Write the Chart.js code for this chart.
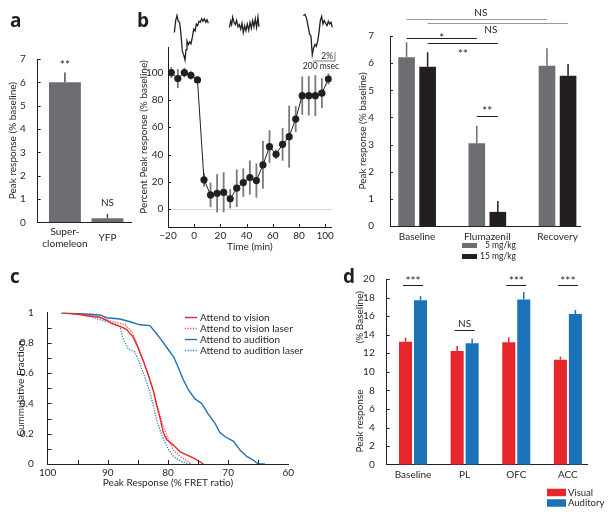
<!DOCTYPE html>
<html>
<head>
<meta charset="utf-8">
<script src="https://cdn.jsdelivr.net/npm/chart.js@4.4.1/dist/chart.umd.min.js"></script>
<style>
  body { margin: 0; background: #fff; }
  #fig { position: relative; width: 612px; height: 519px; overflow: hidden; }
  #fig canvas { position: absolute; }
</style>
</head>
<body>
<div id="fig">
  <canvas id="chartA" width="140" height="262" style="left:0;top:0"></canvas>
  <canvas id="chartB" width="230" height="262" style="left:110px;top:0"></canvas>
  <canvas id="traces" width="175" height="72" style="left:165px;top:0"></canvas>
  <canvas id="chartB2" width="272" height="265" style="left:340px;top:0"></canvas>
  <canvas id="chartC" width="330" height="259" style="left:0;top:260px"></canvas>
  <canvas id="chartD" width="282" height="259" style="left:330px;top:260px"></canvas>
</div>
<script>
// panel a
const aLabels = [["Super-", "clomeleon"], "YFP"];
const aValues = [6.0, 0.17];
const aErrors = [0.42, 0.19];

// panel b, time course
const bTimes = [-17.5, -12.5, -7.5, -2.5, 2.5, 7.5, 12.5, 17.5, 22.5, 27.5, 32.5, 37.5, 42.5,
  47.5, 52.5, 57.5, 62.5, 67.5, 72.5, 77.5, 82.5, 87.5, 92.5, 97.5, 102.5];
const bResponse = [100, 95.6, 100, 98, 94.6, 21.5, 10.5, 11.7, 12.4, 7.6, 15.4, 19.5, 23.2,
  21, 32.4, 45.8, 40.2, 47.5, 53.1, 66, 83.1, 83.1, 83.1, 84.9, 95.3];
const bErrors = [4, 7, 3.5, 3, 2, 5, 9, 14, 14.6, 7, 13.7, 10.5, 12.5,
  12.5, 17.5, 12, 3.5, 12, 22.7, 9.5, 14, 14.5, 15, 11, 4];
const bTimeTicks = [-20, 0, 20, 40, 60, 80, 100];
const bPercentTicks = [0, 20, 40, 60, 80, 100];

// example traces above panel b (ms, % change)
const trace1Ms = [85, 97, 109, 121, 133, 145, 158, 170, 182, 191, 200, 212, 224, 236, 248, 261,
  273, 285, 297, 309, 321, 333, 345, 358, 370, 382, 394];
const trace1Val = [-2.71, 0, 1.16, -0.16, -0.39, -3.1, -6.98, -7.75, -8.91, -6.59, -4.65, -5.43,
  -4.81, -5.27, -3.88, -1.94, -2.33, -0.78, -1.16, -0.16, -0.39, 0.39, -0.16, 0.39, -0.39, 0.16, -0.62];
const trace2Ms = [585, 597, 606, 615, 627, 639, 651, 664, 676, 688, 700, 712, 724, 736, 748, 761,
  773, 785, 797, 809, 821, 833, 845, 854];
const trace2Val = [-1.55, -0.16, -0.93, 0.78, -0.39, -0.93, 0, -1.4, -0.93, -1.94, -0.62, -2.71,
  -1.16, -2.33, -0.78, -2.17, -0.39, -1.71, 0, -1.4, 0.39, -1.55, 0.78, -1.4];
const trace3Ms = [1257, 1273, 1288, 1303, 1315, 1327, 1339, 1351, 1364, 1376, 1388, 1400, 1412,
  1424, 1436, 1448, 1460, 1473, 1485, 1497, 1509, 1521];
const trace3Val = [1.16, 1.4, 0.39, -1.55, -3.1, -3.49, -7.75, -6.2, -5.43, -5.81, -4.65, -2.71,
  0, 0.93, -0.78, 0, -0.62, -1.16, -0.16, -0.78, -0.39, -1.55];
const scaleBarMs = [1345, 1545, 1545];
const scaleBarVal = [-9.14, -9.14, -7.14];

// panel b, flumazenil
const b2Groups = ["Baseline", "Flumazenil", "Recovery"];
const dose5 = [6.22, 3.05, 5.9];
const dose5Err = [0.55, 0.64, 0.65];
const dose15 = [5.87, 0.52, 5.54];
const dose15Err = [0.53, 0.4, 0.43];

// panel c, cumulative distributions
const visionX = [97.7, 95, 93.5, 91.3, 90.2, 89.4, 88, 86.9, 85.8, 85, 84.1, 83.3, 82.4, 81.9,
  81.3, 80.8, 80.2, 79.1, 78, 76.9, 75.8, 74.7, 74.1];
const visionY = [1, 0.99, 0.98, 0.97, 0.95, 0.93, 0.91, 0.89, 0.84, 0.77, 0.68, 0.59, 0.48, 0.39,
  0.3, 0.21, 0.16, 0.125, 0.08, 0.06, 0.04, 0.015, 0];
const visionLaserX = [97.7, 94, 91.9, 89.1, 87.1, 86, 85.2, 84.4, 83.5, 82.7, 82.2, 81.6, 80.8,
  79.9, 79.1, 78, 76.6, 76.1];
const visionLaserY = [1, 0.99, 0.975, 0.94, 0.92, 0.875, 0.8, 0.71, 0.62, 0.52, 0.445, 0.36, 0.25,
  0.16, 0.09, 0.05, 0.015, 0];
const auditionX = [97.7, 93, 91.3, 90.2, 88, 86.3, 84.7, 83, 82.4, 81.3, 80.2, 79.1, 78.3, 77.5,
  76.6, 75.5, 74.4, 73.3, 72.2, 71.4, 70.5, 70, 69.1, 68, 66.9, 65.8, 65, 63.9];
const auditionY = [1, 0.99, 0.985, 0.967, 0.958, 0.94, 0.92, 0.915, 0.886, 0.83, 0.77, 0.71, 0.64,
  0.56, 0.49, 0.43, 0.4, 0.33, 0.27, 0.21, 0.18, 0.17, 0.15, 0.09, 0.05, 0.025, 0, 0];
const auditionLaserX = [97.7, 94, 91.9, 89.1, 88, 87.5, 86.6, 85.5, 84.7, 83.8, 83, 82.4, 81.9,
  81.1, 80.2, 79.1, 77.7, 76.3];
const auditionLaserY = [1, 0.99, 0.96, 0.93, 0.91, 0.83, 0.76, 0.74, 0.665, 0.57, 0.47, 0.38, 0.29,
  0.2, 0.115, 0.05, 0.015, 0];

// panel d
const dLabels = ["Baseline", "PL", "OFC", "ACC"];
const visual = [13.25, 12.24, 13.18, 11.31];
const visualErr = [0.43, 0.54, 0.54, 0.32];
const auditory = [17.7, 13.07, 17.8, 16.23];
const auditoryErr = [0.47, 0.5, 0.8, 0.43];

const INK = "#231f20";
const GREY_BAR = "#6d6e71";
const RED = "#e6262b";
const BLUE = "#1b72b9";

Chart.defaults.font.family = "Lato, sans-serif";
Chart.defaults.font.size = 10;
Chart.defaults.color = INK;
Chart.defaults.animation = false;
Chart.defaults.plugins.legend.display = false;
Chart.defaults.plugins.tooltip.enabled = false;

const xy = (xs, ys) => xs.map((x, i) => ({ x: x, y: ys[i] }));
const minus = (v) => String(v).replace("-", "\u2212");

function setTicks(values) {
  return (scale) => { scale.ticks = values.map((v) => ({ value: v })); };
}

// error bars read from dataset.errors
const errorBars = {
  id: "errorBars",
  beforeDatasetsDraw(chart) {
    const ctx = chart.ctx;
    chart.data.datasets.forEach((ds, i) => {
      if (!ds.errors) return;
      const meta = chart.getDatasetMeta(i);
      const yScale = chart.scales[meta.yAxisID];
      meta.data.forEach((el, j) => {
        const raw = ds.data[j];
        const v = typeof raw === "object" ? raw.y : raw;
        const top = yScale.getPixelForValue(v + ds.errors[j]);
        const bottom = ds.errorMode === "both" ? yScale.getPixelForValue(v - ds.errors[j]) : el.y;
        ctx.save();
        ctx.strokeStyle = ds.errorColor || ds.backgroundColor;
        ctx.lineWidth = ds.errorWidth || 1.5;
        ctx.beginPath();
        ctx.moveTo(el.x, top);
        ctx.lineTo(el.x, bottom);
        ctx.stroke();
        ctx.restore();
      });
    });
  },
};

// tick marks pointing into the plot
function innerTicks(cfg) {
  return {
    id: "innerTicks",
    afterDraw(chart) {
      const ctx = chart.ctx;
      const area = chart.chartArea;
      ctx.save();
      ctx.strokeStyle = INK;
      ctx.lineWidth = 1;
      ["x", "y"].forEach((id) => {
        const o = cfg[id];
        if (!o) return;
        const s = chart.scales[id];
        ctx.beginPath();
        o.values.forEach((v) => {
          const p = Math.round(s.getPixelForValue(v)) + 0.5;
          if (id === "x") {
            ctx.moveTo(p, area.bottom);
            ctx.lineTo(p, area.bottom - o.len);
          } else {
            ctx.moveTo(area.left, p);
            ctx.lineTo(area.left + o.len, p);
          }
        });
        ctx.stroke();
      });
      ctx.restore();
    },
  };
}

// significance bars and labels
function sigMarks(items) {
  return {
    id: "sigMarks",
    afterDraw(chart) {
      const ctx = chart.ctx;
      const yScale = chart.scales.y;
      items.forEach((it) => {
        const xa = chart.getDatasetMeta(it.from[0]).data[it.from[1]].x;
        const xb = chart.getDatasetMeta(it.to[0]).data[it.to[1]].x;
        const ext = it.ext || 0;
        ctx.save();
        if (it.line != null) {
          const y = Math.round(yScale.getPixelForValue(it.line)) + 0.5;
          ctx.strokeStyle = it.color || INK;
          ctx.lineWidth = 1;
          ctx.beginPath();
          ctx.moveTo(xa - ext, y);
          ctx.lineTo(xb + ext, y);
          ctx.stroke();
        }
        ctx.fillStyle = INK;
        const star = it.text.indexOf("*") >= 0;
        ctx.font = (star ? "12px" : "10px") + " Lato, sans-serif";
        ctx.textAlign = "center";
        ctx.textBaseline = "alphabetic";
        ctx.fillText(it.text, (xa + xb) / 2 + (it.dx || 0),
          yScale.getPixelForValue(it.textY) + (star ? 1.5 : 0));
        ctx.restore();
      });
    },
  };
}

// bold panel letter
function panelTag(letter, x, y) {
  return {
    id: "panelTag",
    afterDraw(chart) {
      const ctx = chart.ctx;
      ctx.save();
      ctx.fillStyle = INK;
      ctx.font = "bold 19px 'Open Sans', sans-serif";
      ctx.textBaseline = "alphabetic";
      ctx.fillText(letter, x, y);
      ctx.restore();
    },
  };
}

// swatch legend for bar panels
function boxLegend(cfg) {
  return {
    id: "boxLegend",
    afterDraw(chart) {
      const ctx = chart.ctx;
      ctx.save();
      ctx.font = cfg.font;
      ctx.textBaseline = "middle";
      chart.data.datasets.forEach((ds, i) => {
        const y = cfg.y + i * cfg.gap;
        ctx.fillStyle = ds.backgroundColor;
        ctx.fillRect(cfg.x, y - cfg.h / 2, cfg.w, cfg.h);
        ctx.fillStyle = INK;
        ctx.textAlign = cfg.align;
        ctx.fillText(ds.label, cfg.textX, y);
      });
      ctx.restore();
    },
  };
}

// line legend for panel c
function lineLegend(cfg) {
  return {
    id: "lineLegend",
    afterDraw(chart) {
      const ctx = chart.ctx;
      ctx.save();
      ctx.font = cfg.font;
      ctx.textBaseline = "middle";
      chart.data.datasets.forEach((ds, i) => {
        const y = Math.round(cfg.y + i * cfg.gap) + 0.5;
        ctx.strokeStyle = ds.borderColor;
        ctx.lineWidth = ds.borderWidth;
        ctx.setLineDash(ds.borderDash || []);
        ctx.beginPath();
        ctx.moveTo(cfg.x, y);
        ctx.lineTo(cfg.x + cfg.len, y);
        ctx.stroke();
        ctx.setLineDash([]);
        ctx.fillStyle = INK;
        ctx.fillText(ds.label, cfg.x + cfg.len + 3, y);
      });
      ctx.restore();
    },
  };
}

function yAxis(opts) {
  return {
    type: "linear",
    min: opts.min,
    max: opts.max,
    afterFit: (s) => { s.width = opts.width; },
    afterBuildTicks: setTicks(opts.ticks),
    grid: opts.grid || { display: false },
    border: { display: true, color: INK, width: 1 },
    ticks: { padding: opts.pad, callback: opts.format || ((v) => minus(v)) },
    title: {
      display: true,
      text: opts.title,
      font: { size: 10 },
      padding: { top: opts.titlePad, bottom: 0 },
    },
  };
}

function xAxis(opts) {
  return {
    type: "linear",
    min: opts.min,
    max: opts.max,
    reverse: !!opts.reverse,
    offset: false,
    afterFit: (s) => { s.height = opts.height; },
    afterBuildTicks: setTicks(opts.ticks),
    grid: { display: false, offset: false },
    border: { display: true, color: INK, width: 1 },
    ticks: {
      padding: opts.pad,
      maxRotation: 0,
      autoSkip: false,
      crossAlign: "center",
      callback: opts.format || ((v) => minus(v)),
    },
    title: opts.title
      ? { display: true, text: opts.title, font: { size: 10 }, padding: { top: 0, bottom: opts.titlePad } }
      : { display: false },
  };
}

// ---------- panel a
new Chart(document.getElementById("chartA"), {
  type: "bar",
  data: {
    datasets: [{
      data: xy([0, 1], aValues),
      errors: aErrors,
      backgroundColor: GREY_BAR,
      errorColor: "#4d4d4f",
      categoryPercentage: 1,
      barPercentage: 0.75,
    }],
  },
  options: {
    responsive: false,
    layout: { padding: { top: 59, right: 8.3, bottom: 0, left: 0 } },
    scales: {
      x: xAxis({ min: -0.64, max: 1.57, height: 39.7, ticks: [0, 1], pad: 1,
        format: (v) => aLabels[v] }),
      y: yAxis({ min: 0, max: 7, width: 37.7, ticks: [0, 1, 2, 3, 4, 5, 6, 7], pad: 4,
        title: "Peak response (% baseline)", titlePad: 7 }),
    },
  },
  plugins: [errorBars, innerTicks({ y: { values: [1, 2, 3, 4, 5, 6, 7], len: 3 } }),
    sigMarks([
      { from: [0, 0], to: [0, 0], text: "**", textY: 6.65 },
      { from: [0, 1], to: [0, 1], text: "NS", textY: 0.7 },
    ]),
    panelTag("a", 10, 27)],
});

// ---------- panel b, time course
new Chart(document.getElementById("chartB"), {
  type: "line",
  data: {
    datasets: [{
      data: xy(bTimes, bResponse),
      errors: bErrors,
      errorMode: "both",
      errorColor: "#7a7a7a",
      errorWidth: 1.8,
      borderColor: INK,
      borderWidth: 1,
      pointRadius: 3.6,
      pointBackgroundColor: INK,
      pointBorderWidth: 0,
      tension: 0,
    }],
  },
  options: {
    responsive: false,
    layout: { padding: { top: 47, right: 8.3, bottom: 0, left: 0 } },
    scales: {
      x: xAxis({ min: -20, max: 105, height: 35, ticks: bTimeTicks, pad: 1,
        title: "Time (min)", titlePad: 9.3 }),
      y: yAxis({ min: -13, max: 118.7, width: 58, ticks: bPercentTicks, pad: 4.7,
        title: "Percent Peak response (% baseline)", titlePad: 27.3,
        grid: { display: true, drawTicks: false,
          color: (c) => (c.tick && c.tick.value === 0 ? "#d9d9d9" : "rgba(0,0,0,0)") } }),
    },
  },
  plugins: [errorBars,
    innerTicks({ x: { values: bTimeTicks, len: 3 }, y: { values: bPercentTicks, len: 3 } }),
    panelTag("b", 27, 27)],
});

// ---------- traces above panel b
new Chart(document.getElementById("traces"), {
  type: "line",
  data: {
    datasets: [
      { data: xy(trace1Ms, trace1Val), borderColor: INK, borderWidth: 1.3 },
      { data: xy(trace2Ms, trace2Val), borderColor: INK, borderWidth: 1.3 },
      { data: xy(trace3Ms, trace3Val), borderColor: INK, borderWidth: 1.3 },
      { data: xy(scaleBarMs, scaleBarVal), borderColor: "#808080", borderWidth: 1 },
    ],
  },
  options: {
    responsive: false,
    layout: { padding: 0 },
    elements: { point: { radius: 0 }, line: { tension: 0 } },
    scales: {
      x: { type: "linear", display: false, min: 0, max: 1591 },
      y: { type: "linear", display: false, min: -11.63, max: 4.65 },
    },
  },
  plugins: [{
    id: "scaleBarText",
    afterDraw(chart) {
      const ctx = chart.ctx;
      const sx = chart.scales.x;
      const sy = chart.scales.y;
      ctx.save();
      ctx.fillStyle = INK;
      ctx.font = "8.5px Lato, sans-serif";
      ctx.textAlign = "right";
      ctx.textBaseline = "alphabetic";
      ctx.fillText("2%", sx.getPixelForValue(scaleBarMs[2]) - 2, sy.getPixelForValue(scaleBarVal[0]) - 2);
      ctx.textAlign = "center";
      ctx.fillText("200 msec", (sx.getPixelForValue(scaleBarMs[0]) + sx.getPixelForValue(scaleBarMs[1])) / 2 - 3,
        sy.getPixelForValue(scaleBarVal[0]) + 8);
      ctx.restore();
    },
  }],
});

// ---------- panel b, flumazenil
new Chart(document.getElementById("chartB2"), {
  type: "bar",
  data: {
    datasets: [
      { label: "5 mg/kg", data: xy([0, 1, 2], dose5), errors: dose5Err, backgroundColor: GREY_BAR },
      { label: "15 mg/kg", data: xy([0, 1, 2], dose15), errors: dose15Err, backgroundColor: INK },
    ],
  },
  options: {
    responsive: false,
    datasets: { bar: { categoryPercentage: 0.6, barPercentage: 0.79 } },
    layout: { padding: { top: 36, right: 32, bottom: 0, left: 0 } },
    scales: {
      x: xAxis({ min: -0.386, max: 2.32, height: 39, ticks: [0, 1, 2], pad: 3,
        format: (v) => b2Groups[v] }),
      y: yAxis({ min: 0, max: 7, width: 50, ticks: [0, 1, 2, 3, 4, 5, 6, 7], pad: 8,
        title: "Peak response (% baseline)", titlePad: 17 }),
    },
  },
  plugins: [errorBars, innerTicks({ y: { values: [1, 2, 3, 4, 5, 6, 7], len: 3 } }),
    sigMarks([
      { from: [0, 0], to: [0, 2], line: 7.63, color: "#9a9a9a", text: "NS", textY: 7.74, dx: 4 },
      { from: [1, 0], to: [1, 2], line: 7.48, color: "#9a9a9a", text: "NS", textY: 7.12, dx: -7 },
      { from: [0, 0], to: [0, 1], line: 6.93, text: "*", textY: 6.82 },
      { from: [1, 0], to: [1, 1], line: 6.74, text: "**", textY: 6.25 },
      { from: [0, 1], to: [1, 1], line: 4.05, text: "**", textY: 4.13 },
    ]),
    boxLegend({ x: 122, y: 245.5, gap: 11, w: 15, h: 5, textX: 176, align: "right",
      font: "8.5px Lato, sans-serif" })],
});

// ---------- panel c
new Chart(document.getElementById("chartC"), {
  type: "line",
  data: {
    datasets: [
      { label: "Attend to vision", data: xy(visionX, visionY), borderColor: RED, borderWidth: 1.4 },
      { label: "Attend to vision laser", data: xy(visionLaserX, visionLaserY), borderColor: "#ee4a4f",
        borderWidth: 1.3, borderDash: [1.2, 1.4] },
      { label: "Attend to audition", data: xy(auditionX, auditionY), borderColor: BLUE, borderWidth: 1.4 },
      { label: "Attend to audition laser", data: xy(auditionLaserX, auditionLaserY), borderColor: "#2a7cc4",
        borderWidth: 1.3, borderDash: [1.2, 1.4] },
    ],
  },
  options: {
    responsive: false,
    elements: { point: { radius: 0 }, line: { tension: 0 } },
    layout: { padding: { top: 52.7, right: 41.7, bottom: 0, left: 0 } },
    scales: {
      x: xAxis({ min: 60, max: 100, reverse: true, height: 55, ticks: [100, 90, 80, 70, 60], pad: 1,
        title: "Peak Response (% FRET ratio)", titlePad: 30.3 }),
      y: yAxis({ min: 0, max: 1, width: 47.7, ticks: [0, 0.2, 0.4, 0.6, 0.8, 1], pad: 6,
        title: "Cummulative Fraction", titlePad: 15 }),
    },
  },
  plugins: [
    innerTicks({
      x: { values: [95, 90, 85, 80, 75, 70, 65], len: 4 },
      y: { values: [0.1, 0.2, 0.3, 0.4, 0.5, 0.6, 0.7, 0.8, 0.9], len: 4 },
    }),
    lineLegend({ x: 185, y: 57.3, gap: 11, len: 12, font: "10px Lato, sans-serif" }),
    panelTag("c", 10, 23.3)],
});

// ---------- panel d
new Chart(document.getElementById("chartD"), {
  type: "bar",
  data: {
    datasets: [
      { label: "Visual", data: xy([0, 1, 2, 3], visual), errors: visualErr, backgroundColor: RED },
      { label: "Auditory", data: xy([0, 1, 2, 3], auditory), errors: auditoryErr, backgroundColor: BLUE },
    ],
  },
  options: {
    responsive: false,
    datasets: { bar: { categoryPercentage: 0.58, barPercentage: 0.87 } },
    layout: { padding: { top: 19, right: 25, bottom: 0, left: 0 } },
    scales: {
      x: xAxis({ min: -0.51, max: 3.37, height: 54.3, ticks: [0, 1, 2, 3], pad: 2,
        format: (v) => dLabels[v] }),
      y: yAxis({ min: 0, max: 20, width: 56.7, ticks: [0, 2, 4, 6, 8, 10, 12, 14, 16, 18, 20], pad: 4,
        title: "Peak response                  (% Baseline)", titlePad: 24 }),
    },
  },
  plugins: [errorBars, innerTicks({ y: { values: [2, 4, 6, 8, 10, 12, 14, 16, 18, 20], len: 3 } }),
    sigMarks([
      { from: [0, 0], to: [1, 0], line: 19.36, text: "***", textY: 19.5, ext: 2.5 },
      { from: [0, 1], to: [1, 1], line: 14.51, text: "NS", textY: 14.87, ext: 2.5 },
      { from: [0, 2], to: [1, 2], line: 19.36, text: "***", textY: 19.5, ext: 2.5 },
      { from: [0, 3], to: [1, 3], line: 19.36, text: "***", textY: 19.5, ext: 2.5 },
    ]),
    boxLegend({ x: 217, y: 232.5, gap: 10.5, w: 19, h: 7.5, textX: 238, align: "left",
      font: "9.5px Lato, sans-serif" }),
    panelTag("d", 13, 23.3)],
});
</script>
</body>
</html>
